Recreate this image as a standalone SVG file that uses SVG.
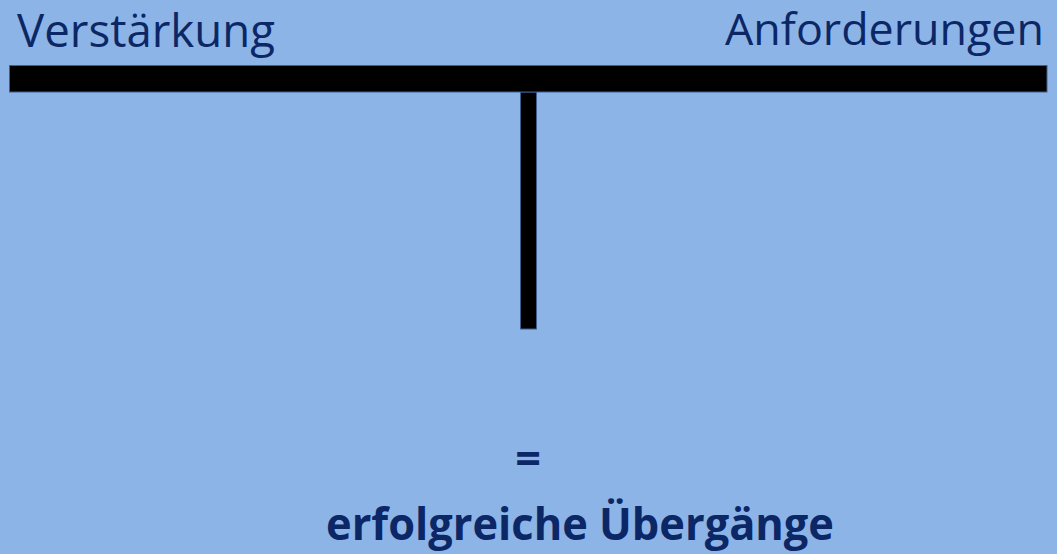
<svg xmlns="http://www.w3.org/2000/svg" width="1057" height="554" viewBox="0 0 1057 554">
  <style>
    .label { font-family: "Open Sans", "Noto Sans", "Liberation Sans", sans-serif; fill: #0B2766; }
    .bar { fill: #000000; stroke: #3F5F8F; stroke-width: 1; }
  </style>
  <rect x="0" y="0" width="1057" height="554" fill="#8DB4E6"/>

  <!-- seesaw: beam and post -->
  <g id="connectors">
    <rect id="post" class="bar" x="520.5" y="92" width="16" height="237"/>
    <rect id="beam" class="bar" x="9.5" y="65.5" width="1037.5" height="26.5"/>
  </g>

  <g id="node-verstaerkung">
    <text class="label" x="17" y="47" font-size="45" textLength="258" lengthAdjust="spacingAndGlyphs">Verstärkung</text>
  </g>
  <g id="node-anforderungen">
    <text class="label" x="725" y="45" font-size="44" textLength="319" lengthAdjust="spacingAndGlyphs">Anforderungen</text>
  </g>
  <g id="node-ergebnis">
    <text class="label" x="528" y="474" font-size="45" font-weight="bold" text-anchor="middle">=</text>
    <text class="label" x="326" y="540" font-size="45" font-weight="bold" textLength="508" lengthAdjust="spacingAndGlyphs">erfolgreiche Übergänge</text>
  </g>
</svg>
